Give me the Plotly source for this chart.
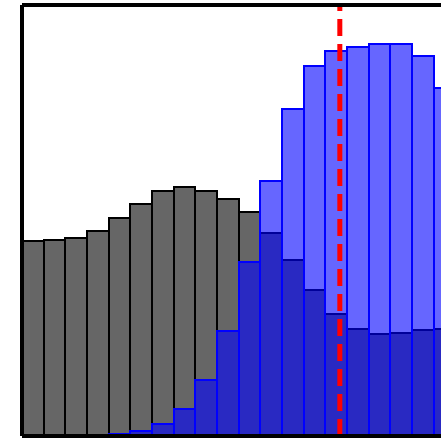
import plotly.graph_objects as go

# Histogram bins (unit width), left edges 0..19
bin_left = list(range(20))
bin_centers = [b + 0.5 for b in bin_left]

# Counts per bin
gray_counts = [195, 196, 198, 205, 218, 232, 245, 249, 245, 237,
               224, 203, 176, 146, 122, 107, 102, 103, 106, 107]
blue_counts = [0, 0, 0, 0, 2, 5, 12, 27, 56, 105,
               174, 255, 327, 370, 385, 389, 392, 392, 380, 348]

# Threshold marker
threshold = 14.67

x_range = [0, 19.34]
y_range = [0, 431]

fig = go.Figure()
fig.add_trace(go.Bar(
    x=bin_centers, y=gray_counts, width=1,
    marker=dict(color="#666666", line=dict(color="black", width=2)),
))
fig.add_trace(go.Bar(
    x=bin_centers, y=blue_counts, width=1,
    marker=dict(color="rgba(0,0,255,0.6)", line=dict(color="rgb(0,0,255)", width=2)),
))

shapes = [
    # dashed threshold line, drawn bottom to top
    dict(type="line", xref="x", yref="paper", x0=threshold, x1=threshold, y0=0, y1=1,
         line=dict(color="red", width=5, dash="17px,8px"), layer="above"),
    # frame: left, top, bottom
    dict(type="line", xref="paper", yref="paper", x0=0, x1=0, y0=0, y1=1,
         line=dict(color="black", width=4), layer="above"),
    dict(type="line", xref="paper", yref="paper", x0=0, x1=1, y0=1, y1=1,
         line=dict(color="black", width=4), layer="above"),
    dict(type="line", xref="paper", yref="paper", x0=0, x1=1, y0=0, y1=0,
         line=dict(color="black", width=4), layer="above"),
]

fig.update_layout(
    width=441, height=440,
    margin=dict(l=22, r=0, t=5, b=4),
    barmode="overlay", bargap=0,
    showlegend=False,
    plot_bgcolor="white", paper_bgcolor="white",
    shapes=shapes,
    xaxis=dict(range=x_range, showticklabels=False, ticks="", showgrid=False,
               zeroline=False, showline=False),
    yaxis=dict(range=y_range, showticklabels=False, ticks="", showgrid=False,
               zeroline=False, showline=False),
)

fig.write_html("out.html")
